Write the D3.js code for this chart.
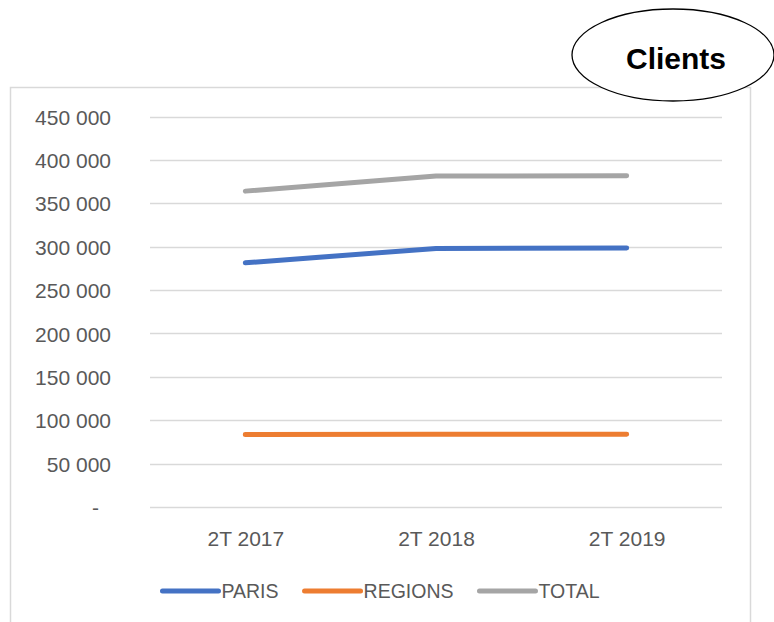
<!DOCTYPE html>
<html>
<head>
<meta charset="utf-8">
<script src="https://cdn.jsdelivr.net/npm/d3@7"></script>
<style>
  html, body { margin: 0; padding: 0; background: #fff; }
  svg { display: block; font-family: "Liberation Sans", Arial, sans-serif; }
</style>
</head>
<body>
<svg id="chart" width="774" height="622"></svg>
<script>
// chart data
const periods = ["2T 2017", "2T 2018", "2T 2019"];
const paris = [281400, 298000, 298400];
const regions = [83600, 83700, 83900];
const total = [364000, 381300, 381700];
const seriesNames = ["PARIS", "REGIONS", "TOTAL"];
const yTicks = [0, 50000, 100000, 150000, 200000, 250000, 300000, 350000, 400000, 450000];
const title = "Clients";

const colors = ["#4472C4", "#ED7D31", "#A5A5A5"];
const series = [paris, regions, total];

const svg = d3.select("#chart");

// outer chart frame (runs off the bottom of the picture)
svg.append("rect")
    .attr("x", 10.5).attr("y", 87.5)
    .attr("width", 740).attr("height", 560)
    .attr("fill", "none")
    .attr("stroke", "#d9d9d9")
    .attr("stroke-width", 1.5);

const plot = { left: 150, right: 722, top: 116.5, bottom: 507 };

let x = d3.scalePoint()
    .domain(periods)
    .range([plot.left, plot.right])
    .padding(0.5);

let y = d3.scaleLinear()
    .domain([0, 450000])
    .range([plot.bottom, plot.top]);

// gridlines
svg.append("g")
    .selectAll("line")
    .data(yTicks)
    .enter().append("line")
    .attr("x1", plot.left).attr("x2", plot.right)
    .attr("y1", d => Math.round(y(d)) + 0.5)
    .attr("y2", d => Math.round(y(d)) + 0.5)
    .attr("stroke", "#d9d9d9")
    .attr("stroke-width", 1.3);

// y axis labels, french number format with space as thousands separator
const fmt = d3.formatLocale({ decimal: ",", thousands: " ", grouping: [3], currency: ["", ""] }).format(",d");

let yAxis = d3.axisLeft(y)
    .tickValues(yTicks)
    .tickSize(0)
    .tickPadding(0)
    .tickFormat(d => d === 0 ? "-" : fmt(d));

let yg = svg.append("g")
    .attr("transform", "translate(111,0)")
    .call(yAxis);
yg.select(".domain").remove();
yg.selectAll("text")
    .style("font-size", "21px")
    .attr("fill", "#595959")
    .attr("dy", "0.36em")
    .attr("x", d => d === 0 ? -12 : 0);

// x axis labels
let xAxis = d3.axisBottom(x).tickSize(0).tickPadding(0);
let xg = svg.append("g")
    .attr("transform", "translate(0,546)")
    .call(xAxis);
xg.select(".domain").remove();
xg.selectAll("text")
    .style("font-size", "21px")
    .attr("fill", "#595959")
    .attr("dy", 0)
    .attr("y", 0);

// lines
let line = d3.line()
    .x((d, i) => x(periods[i]))
    .y(d => y(d));

svg.append("g")
    .selectAll("path")
    .data(series)
    .enter().append("path")
    .attr("d", d => line(d))
    .attr("fill", "none")
    .attr("stroke", (d, i) => colors[i])
    .attr("stroke-width", 5)
    .attr("stroke-linecap", "round")
    .attr("stroke-linejoin", "round");

// legend, centred on the chart frame
let legend = svg.append("g");
let items = legend.selectAll("g")
    .data(seriesNames)
    .enter().append("g");

items.append("line")
    .attr("x1", 0).attr("x2", 56)
    .attr("y1", 591).attr("y2", 591)
    .attr("stroke", (d, i) => colors[i])
    .attr("stroke-width", 5)
    .attr("stroke-linecap", "round");

items.append("text")
    .attr("x", 59)
    .attr("y", 598)
    .style("font-size", "19.5px")
    .attr("fill", "#595959")
    .text(d => d);

let offsets = [], cur = 0;
items.each(function () {
    offsets.push(cur);
    cur += 59 + this.querySelector("text").getComputedTextLength() + 26;
});
let legendWidth = cur - 26;
let startX = 381 - legendWidth / 2;
items.attr("transform", (d, i) => `translate(${startX + offsets[i]},0)`);

// title bubble
svg.append("ellipse")
    .attr("cx", 673).attr("cy", 55)
    .attr("rx", 101).attr("ry", 46)
    .attr("fill", "#fff")
    .attr("stroke", "#000")
    .attr("stroke-width", 1.3);

svg.append("text")
    .attr("x", 676).attr("y", 69)
    .attr("text-anchor", "middle")
    .style("font-size", "30px")
    .style("font-weight", "bold")
    .attr("fill", "#000")
    .text(title);
</script>
</body>
</html>
